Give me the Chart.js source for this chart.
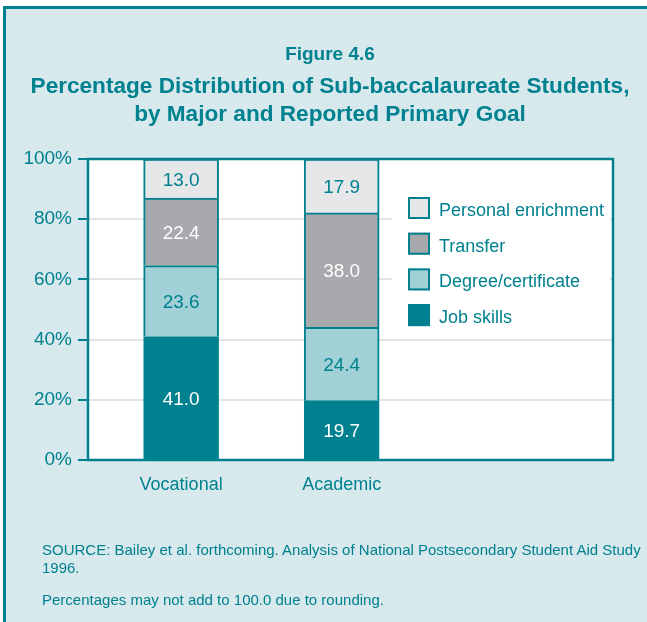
<!DOCTYPE html>
<html>
<head>
<meta charset="utf-8">
<script src="https://cdn.jsdelivr.net/npm/chart.js@4/dist/chart.umd.min.js"></script>
<style>
  body { margin: 0; width: 647px; height: 622px; overflow: hidden; background: #fff;
         font-family: 'Liberation Sans', Arial, sans-serif; color: #00818f; }
  .panel { position: absolute; left: 3px; top: 6px; width: 700px; height: 700px;
           background: #d7e9ed; border-left: 3px solid #00818f; border-top: 3px solid #00818f; }
  canvas { position: absolute; left: 0; top: 0; }
  .title { position: absolute; left: 0; width: 660px; text-align: center; font-weight: bold;
           line-height: 1; white-space: nowrap; }
  .note { position: absolute; left: 42px; font-size: 15px; line-height: 18px; white-space: nowrap; }
</style>
</head>
<body>
<div class="panel"></div>
<canvas id="goalChart" width="647" height="622"></canvas>
<div class="title" style="top:43.9px;font-size:19px">Figure 4.6</div>
<div class="title" style="top:74.9px;font-size:22.6px">Percentage Distribution of Sub-baccalaureate Students,</div>
<div class="title" style="top:102.9px;font-size:22.6px">by Major and Reported Primary Goal</div>
<div class="note" style="top:540.8px">SOURCE: Bailey et al. forthcoming. Analysis of National Postsecondary Student Aid Study<br>1996.</div>
<div class="note" style="top:590.8px">Percentages may not add to 100.0 due to rounding.</div>
<script>
const majors = ['Vocational', 'Academic'];
const jobSkills = [41.0, 19.7];
const degreeCertificate = [23.6, 24.4];
const transfer = [22.4, 38.0];
const personalEnrichment = [13.0, 17.9];
const yTicks = [0, 20, 40, 60, 80, 100];

const TEAL = '#00818f';
const FONT = "'Liberation Sans', Arial, sans-serif";

function points(values) {
  return values.map((v, i) => ({ x: i, y: v }));
}

// white plot background, drawn under everything
const plotBackground = {
  id: 'plotBackground',
  beforeDraw(chart) {
    const { ctx, chartArea: a } = chart;
    ctx.save();
    ctx.fillStyle = '#fff';
    ctx.fillRect(a.left, a.top, a.right - a.left, a.bottom - a.top);
    ctx.restore();
  }
};

// numbers in the middle of each segment
const segmentLabels = {
  id: 'segmentLabels',
  afterDatasetsDraw(chart) {
    const ctx = chart.ctx;
    ctx.save();
    ctx.font = '19px ' + FONT;
    ctx.textAlign = 'center';
    ctx.textBaseline = 'alphabetic';
    chart.data.datasets.forEach((ds, i) => {
      chart.getDatasetMeta(i).data.forEach((bar, j) => {
        ctx.fillStyle = ds.labelColor;
        ctx.fillText(ds.data[j].y.toFixed(1), bar.x, (bar.y + bar.base) / 2 + 7);
      });
    });
    ctx.restore();
  }
};

// legend box inside the plot, top entry = top segment
const insideLegend = {
  id: 'insideLegend',
  afterDatasetsDraw(chart) {
    const ctx = chart.ctx;
    ctx.save();
    ctx.fillStyle = '#fff';
    ctx.fillRect(392, 186, 218, 150);
    ctx.font = '18px ' + FONT;
    ctx.textAlign = 'left';
    ctx.textBaseline = 'alphabetic';
    const items = chart.data.datasets.slice().reverse();
    items.forEach((ds, k) => {
      const y = 197 + k * 35.7;
      ctx.fillStyle = ds.backgroundColor;
      ctx.fillRect(408, y, 22, 22);
      ctx.strokeStyle = TEAL;
      ctx.lineWidth = 2;
      ctx.strokeRect(409, y + 1, 20, 20);
      ctx.fillStyle = TEAL;
      ctx.fillText(ds.label, 439, y + 19);
    });
    ctx.restore();
  }
};

// teal frame round the plot
const plotFrame = {
  id: 'plotFrame',
  afterDraw(chart) {
    const { ctx, chartArea: a } = chart;
    ctx.save();
    ctx.strokeStyle = TEAL;
    ctx.lineWidth = 2.5;
    ctx.strokeRect(a.left, a.top, a.right - a.left, a.bottom - a.top);
    ctx.restore();
  }
};

const ctx = document.getElementById('goalChart').getContext('2d');
new Chart(ctx, {
  type: 'bar',
  data: {
    datasets: [
      { label: 'Job skills', data: points(jobSkills), backgroundColor: '#00818f', labelColor: '#fff' },
      { label: 'Degree/certificate', data: points(degreeCertificate), backgroundColor: '#a2d0d7', labelColor: TEAL },
      { label: 'Transfer', data: points(transfer), backgroundColor: '#a7a9ac', labelColor: '#fff' },
      { label: 'Personal enrichment', data: points(personalEnrichment), backgroundColor: '#e6e7e8', labelColor: TEAL }
    ].map(ds => Object.assign(ds, {
      borderColor: TEAL,
      borderWidth: 2,
      barThickness: 75
    }))
  },
  options: {
    responsive: false,
    animation: false,
    events: [],
    layout: { padding: { left: 0, right: 34, top: 159, bottom: 102 } },
    plugins: {
      legend: { display: false },
      tooltip: { enabled: false }
    },
    scales: {
      x: {
        type: 'linear',
        stacked: true,
        offset: false,
        min: -0.58,
        max: 2.69,
        afterBuildTicks: scale => { scale.ticks = majors.map((m, i) => ({ value: i })); },
        afterFit: scale => { scale.height = 60; },
        grid: { display: false, drawTicks: false, offset: false },
        border: { display: false },
        ticks: {
          callback: v => majors[v] ?? '',
          color: TEAL,
          font: { family: FONT, size: 18 },
          padding: 14,
          maxRotation: 0
        }
      },
      y: {
        stacked: true,
        min: 0,
        max: 100,
        afterBuildTicks: scale => { scale.ticks = yTicks.map(v => ({ value: v })); },
        afterFit: scale => { scale.width = 88; },
        grid: { color: '#e4e4e4', lineWidth: 2, tickColor: TEAL, tickLength: 10, tickWidth: 2 },
        border: { display: false },
        ticks: {
          callback: v => v + '%',
          color: TEAL,
          font: { family: FONT, size: 19 },
          padding: 6
        }
      }
    }
  },
  plugins: [plotBackground, segmentLabels, insideLegend, plotFrame]
});
</script>
</body>
</html>
